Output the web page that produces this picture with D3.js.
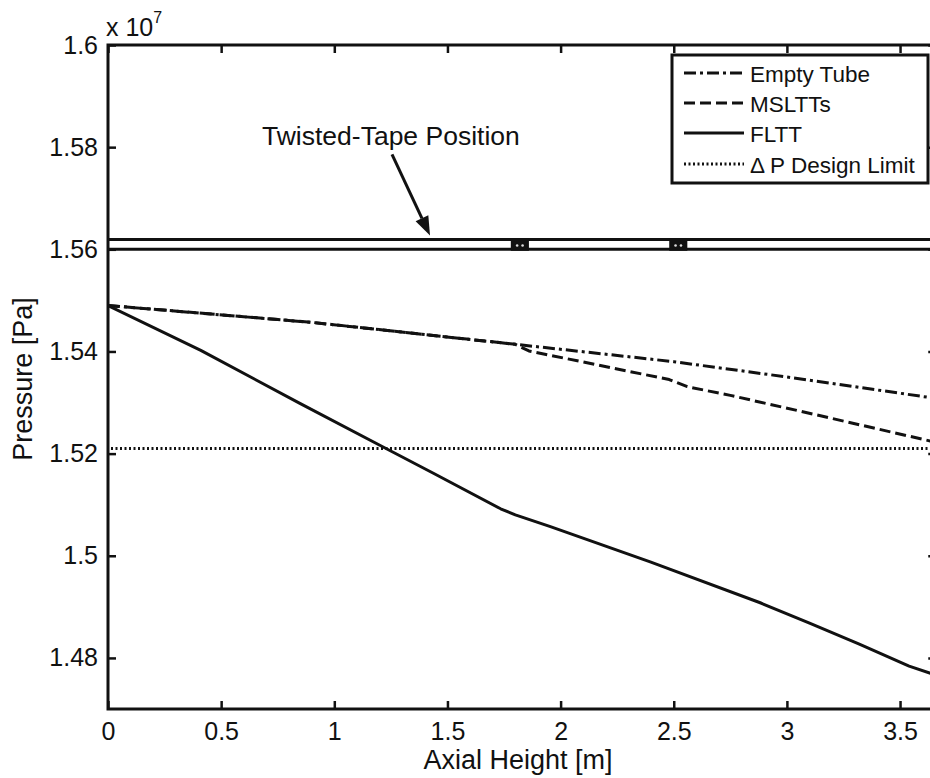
<!DOCTYPE html>
<html>
<head>
<meta charset="utf-8">
<script src="https://cdn.jsdelivr.net/npm/d3@7"></script>
<style>
  html, body { margin: 0; padding: 0; background: #fff; }
  svg { display: block; font-family: "Liberation Sans", Arial, sans-serif; }
</style>
</head>
<body>
<svg id="chart" width="930" height="778"></svg>
<script>
// Axial positions along the heated length [m] and pressures [Pa]
const emptyX  = [0, 0.9, 1.8, 2.5, 3.0, 3.66];
const emptyP  = [15490000, 15457000, 15414000, 15380000, 15350000, 15308000];

const mslttX  = [0, 0.9, 1.8, 1.86, 2.48, 2.56, 2.75, 3.06, 3.66];
const mslttP  = [15490000, 15457000, 15414000, 15401000, 15345000, 15331000, 15314000, 15283000, 15222000];

const flttX   = [0, 0.41, 0.85, 1.22, 1.44, 1.735, 1.8, 1.955, 2.396, 2.882, 3.10, 3.32, 3.54, 3.66];
const flttP   = [15490000, 15402000, 15298000, 15212000, 15161000, 15092000, 15080000, 15057000, 14988000, 14908000, 14868000, 14827000, 14784000, 14766000];

const designLimitP = 15210000;

// Schematic of the tube wall with the tape spacers
const tubeWallP   = [15619000, 15600000];
const spacerStart = [1.78, 2.48];
const spacerEnd   = [1.86, 2.56];

// Annotation
const annotText  = "Twisted-Tape Position";
const annotTextX = 1.25, annotTextP = 15804000;
const arrowFrom  = [1.255, 15786000];
const arrowTo    = [1.423, 15627000];

// Axes
const xDomain = [0, 3.66];
const yDomain = [14700000, 16000000];
const xTicks = [0, 0.5, 1, 1.5, 2, 2.5, 3, 3.5];
const xTickLabels = ["0", "0.5", "1", "1.5", "2", "2.5", "3", "3.5"];
const yTicks = [14800000, 15000000, 15200000, 15400000, 15600000, 15800000, 16000000];
const yTickLabels = ["1.48", "1.5", "1.52", "1.54", "1.56", "1.58", "1.6"];

const legendNames = ["Empty Tube", "MSLTTs", "FLTT", "\u0394 P Design Limit"];
const legendDash  = ["12,4,3,4", "11,5", null, "2,2.5"];

const svg = d3.select("#chart");
const mLeft = 108, mTop = 45, mBottom = 709;
const pxPerM = 226.3;
const x = d3.scaleLinear().domain(xDomain).range([mLeft, mLeft + (xDomain[1] - xDomain[0]) * pxPerM]);
const y = d3.scaleLinear().domain(yDomain).range([mBottom, mTop]);
const mRight = x(xDomain[1]);

const ink = "#111";

// Frame
svg.append("rect")
  .attr("x", mLeft).attr("y", mTop)
  .attr("width", mRight - mLeft).attr("height", mBottom - mTop)
  .attr("fill", "none").attr("stroke", ink).attr("stroke-width", 3);

// Bottom axis with inward ticks
const gx = svg.append("g").attr("transform", `translate(0,${mBottom})`)
  .call(d3.axisBottom(x).tickValues(xTicks)
    .tickFormat((d, i) => xTickLabels[i]).tickSizeInner(-8).tickSizeOuter(0).tickPadding(13));
gx.select(".domain").remove();
gx.selectAll("line").attr("stroke", ink).attr("stroke-width", 2.5);
gx.selectAll("text").attr("font-size", 25).attr("fill", ink);

// Top ticks
const gxt = svg.append("g").attr("transform", `translate(0,${mTop})`)
  .call(d3.axisTop(x).tickValues(xTicks).tickFormat("").tickSizeInner(-8).tickSizeOuter(0));
gxt.select(".domain").remove();
gxt.selectAll("line").attr("stroke", ink).attr("stroke-width", 2.5);

// Left axis
const gy = svg.append("g").attr("transform", `translate(${mLeft},0)`)
  .call(d3.axisLeft(y).tickValues(yTicks)
    .tickFormat((d, i) => yTickLabels[i]).tickSizeInner(-8).tickSizeOuter(0).tickPadding(10));
gy.select(".domain").remove();
gy.selectAll("line").attr("stroke", ink).attr("stroke-width", 2.5);
gy.selectAll("text").attr("font-size", 25).attr("fill", ink);

// Right ticks
const gyr = svg.append("g").attr("transform", `translate(${mRight},0)`)
  .call(d3.axisRight(y).tickValues(yTicks).tickFormat("").tickSizeInner(-8).tickSizeOuter(0));
gyr.select(".domain").remove();
gyr.selectAll("line").attr("stroke", ink).attr("stroke-width", 2.5);

// Exponent
const expo = svg.append("text").attr("x", mLeft - 2).attr("y", mTop - 9)
  .attr("font-size", 25).attr("fill", ink);
expo.append("tspan").text("x 10");
expo.append("tspan").attr("dy", -13).attr("font-size", 16).text("7");

// Axis titles
svg.append("text")
  .attr("x", 518).attr("y", 769)
  .attr("text-anchor", "middle").attr("font-size", 27).attr("fill", ink)
  .text("Axial Height [m]");
svg.append("text")
  .attr("transform", `translate(32,${(mTop + mBottom) / 2 + 2}) rotate(-90)`)
  .attr("text-anchor", "middle").attr("font-size", 27).attr("fill", ink)
  .text("Pressure [Pa]");

// Clip region for data marks
svg.append("clipPath").attr("id", "plot")
  .append("rect").attr("x", mLeft).attr("y", mTop).attr("width", mRight - mLeft).attr("height", mBottom - mTop);
const plot = svg.append("g").attr("clip-path", "url(#plot)");

// Tube wall lines and spacers
tubeWallP.forEach(p => {
  plot.append("line")
    .attr("x1", x(xDomain[0])).attr("x2", x(xDomain[1]))
    .attr("y1", y(p)).attr("y2", y(p))
    .attr("stroke", ink).attr("stroke-width", 3);
});
spacerStart.forEach((s, i) => {
  const x0 = x(s), x1 = x(spacerEnd[i]);
  const y0 = y(tubeWallP[0]), y1 = y(tubeWallP[1]);
  plot.append("rect").attr("x", x0).attr("y", y0 - 1.5)
    .attr("width", x1 - x0).attr("height", y1 - y0 + 3).attr("fill", ink);
  [0.35, 0.65].forEach(f => {
    plot.append("circle").attr("cx", x0 + (x1 - x0) * f).attr("cy", (y0 + y1) / 2 + 1)
      .attr("r", 1.3).attr("fill", "#ddd");
  });
});

// Design limit
plot.append("line")
  .attr("x1", x(xDomain[0]) + 3).attr("x2", x(xDomain[1]))
  .attr("y1", y(designLimitP)).attr("y2", y(designLimitP))
  .attr("stroke", ink).attr("stroke-width", 3).attr("stroke-dasharray", legendDash[3]);

// Pressure curves
const series = [
  { xs: emptyX, ps: emptyP, dash: legendDash[0] },
  { xs: mslttX, ps: mslttP, dash: legendDash[1] },
  { xs: flttX,  ps: flttP,  dash: legendDash[2] }
];
const line = d3.line().x(d => x(d[0])).y(d => y(d[1]));
series.forEach(s => {
  plot.append("path")
    .datum(d3.zip(s.xs, s.ps))
    .attr("d", line)
    .attr("fill", "none").attr("stroke", ink).attr("stroke-width", 3)
    .attr("stroke-linejoin", "round")
    .attr("stroke-dasharray", s.dash);
});

// Annotation text and arrow
svg.append("text")
  .attr("x", x(annotTextX)).attr("y", y(annotTextP))
  .attr("text-anchor", "middle").attr("font-size", 26.5).attr("fill", ink)
  .text(annotText);
{
  const ax0 = x(arrowFrom[0]), ay0 = y(arrowFrom[1]);
  const ax1 = x(arrowTo[0]), ay1 = y(arrowTo[1]);
  const ang = Math.atan2(ay1 - ay0, ax1 - ax0);
  const headLen = 19, headW = 7;
  const bx = ax1 - headLen * Math.cos(ang), by = ay1 - headLen * Math.sin(ang);
  svg.append("line")
    .attr("x1", ax0).attr("y1", ay0).attr("x2", bx).attr("y2", by)
    .attr("stroke", ink).attr("stroke-width", 3);
  const px = -Math.sin(ang), py = Math.cos(ang);
  svg.append("path")
    .attr("d", `M${ax1},${ay1} L${bx + px * headW},${by + py * headW} L${bx - px * headW},${by - py * headW} Z`)
    .attr("fill", ink);
}

// Legend
const lgX = 672, lgY = 55, lgW = 256, lgH = 128;
svg.append("rect")
  .attr("x", lgX).attr("y", lgY).attr("width", lgW).attr("height", lgH)
  .attr("fill", "#fff").attr("stroke", ink).attr("stroke-width", 3);
const rowY = [73, 103, 133, 164];
legendNames.forEach((name, i) => {
  svg.append("line")
    .attr("x1", 684).attr("x2", 744)
    .attr("y1", rowY[i]).attr("y2", rowY[i])
    .attr("stroke", ink).attr("stroke-width", 3)
    .attr("stroke-dasharray", legendDash[i]);
  svg.append("text")
    .attr("x", 750).attr("y", rowY[i] + 9)
    .attr("font-size", 22.5).attr("fill", ink)
    .text(name);
});
</script>
</body>
</html>
